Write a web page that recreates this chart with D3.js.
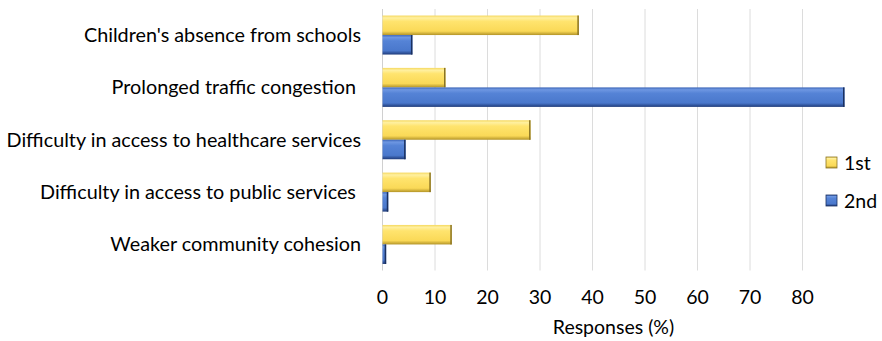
<!DOCTYPE html>
<html><head><meta charset="utf-8">
<script src="https://cdn.jsdelivr.net/npm/d3@7/dist/d3.min.js"></script>
<style>body{margin:0;background:#fff}svg{display:block}text{font-family:Lato,"Open Sans",sans-serif;fill:#000;white-space:pre}</style>
</head><body><svg id="c" width="882" height="341"></svg>
<script>
const categories = ["Children's absence from schools","Prolonged traffic congestion ","Difficulty in access to healthcare services","Difficulty in access to public services ","Weaker community cohesion"];
const series = ["1st","2nd"];
const first = [37.4, 12.0, 28.2, 9.2, 13.2];
const second = [5.7, 88.0, 4.4, 1.1, 0.7];
const ticks = [0,10,20,30,40,50,60,70,80];
const xTitle = "Responses (%)";

const svg = d3.select("#c");
const defs = svg.append("defs");
function grad(id, stops){
  const g = defs.append("linearGradient").attr("id",id).attr("x1",0).attr("y1",0).attr("x2",0).attr("y2",1);
  stops.forEach(s=>g.append("stop").attr("offset",s[0]).attr("stop-color",s[1]));
}
grad("gy",[[0,"#F5D85E"],[0.12,"#FFF0A0"],[0.3,"#FFE46E"],[0.8,"#FAD957"],[1,"#B39428"]]);
grad("gb",[[0,"#3D66B8"],[0.12,"#6E97E2"],[0.3,"#5583D6"],[0.8,"#4A78CC"],[1,"#1F3B7A"]]);
const fills = {"1st":"url(#gy)","2nd":"url(#gb)"};
const edges = {"1st":"#8A7424","2nd":"#1A3060"};

const x0 = 382.5, x1 = 844.5, plotTop = 9, plotBottom = 270.5;
const x = d3.scaleLinear().domain([0,88]).range([x0,x1]);
const y = d3.scaleBand().domain(categories).range([plotTop,plotBottom]).paddingInner(0.255).paddingOuter(0.125);
const ys = d3.scaleBand().domain(series).range([0,y.bandwidth()]);

// gridlines
svg.append("g").selectAll("line").data(ticks).join("line")
  .attr("x1",d=>x(d)).attr("x2",d=>x(d)).attr("y1",plotTop).attr("y2",plotBottom)
  .attr("stroke",d=>d===0?"#D0D0D0":"#DCDCDC").attr("stroke-width",1);

const data = categories.map((c,i)=>({c, v:{"1st":first[i],"2nd":second[i]}}));
const g = svg.append("g");
data.forEach(d=>{
  series.forEach(s=>{
    const yy = y(d.c)+ys(s), h = ys.bandwidth(), w = x(d.v[s])-x(0);
    g.append("rect").attr("x",x(0)).attr("y",yy).attr("width",w).attr("height",h).attr("fill",fills[s]);
    g.append("rect").attr("x",x(d.v[s])-1.5).attr("y",yy).attr("width",1.5).attr("height",h).attr("fill",edges[s]);
  });
});

// category labels
svg.append("g").selectAll("text").data(categories).join("text")
  .attr("x",361).attr("y",d=>y(d)+y.bandwidth()/2).attr("dy","0.35em")
  .attr("text-anchor","end").attr("font-size",19.8).text(d=>d);

// x axis tick labels
svg.append("g").selectAll("text").data(ticks).join("text")
  .attr("x",d=>x(d)).attr("y",297).attr("dy","0.35em").attr("text-anchor","middle")
  .attr("font-size",19.5).text(d=>d);
svg.append("text").attr("x",(x0+x1)/2).attr("y",327).attr("dy","0.35em").attr("text-anchor","middle")
  .attr("font-size",19.5).text(xTitle);

// legend
const lg = svg.append("g");
series.forEach((s,i)=>{
  const ly = 163 + i*38;
  lg.append("rect").attr("x",826).attr("y",ly-6).attr("width",11).attr("height",11).attr("fill",fills[s]).attr("stroke",edges[s]).attr("stroke-width",0.8);
  lg.append("text").attr("x",844).attr("y",ly).attr("dy","0.35em").attr("font-size",19.5).text(s);
});
</script></body></html>
